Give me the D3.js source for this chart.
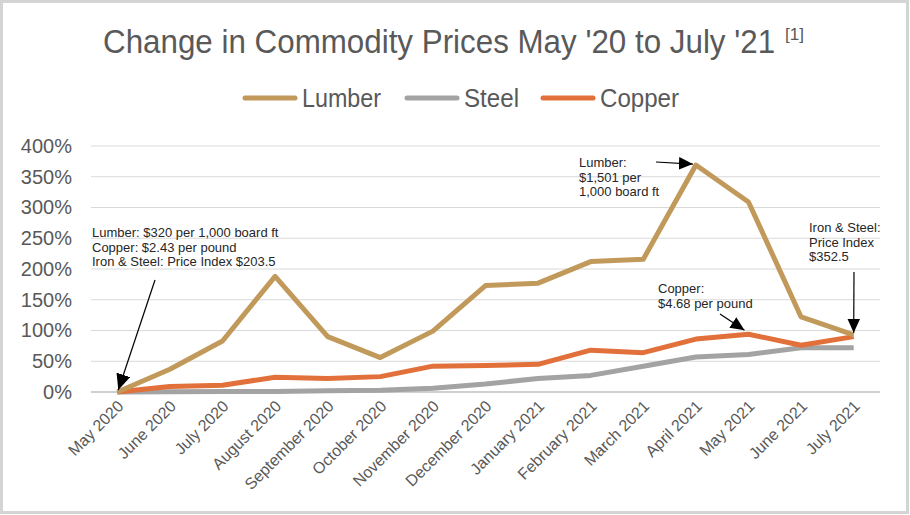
<!DOCTYPE html>
<html><head><meta charset="utf-8">
<script src="https://cdn.jsdelivr.net/npm/d3@7"></script>
<style>body{margin:0;background:#fff}svg{display:block}</style>
</head><body><svg id="c" width="910" height="515"></svg>
<script>
const months = ["May 2020","June 2020","July 2020","August 2020","September 2020","October 2020","November 2020","December 2020","January 2021","February 2021","March 2021","April 2021","May 2021","June 2021","July 2021"];
const lumber = [0,37,83,188,90,56,99,173,177,212,216,369,309,122,93];
const steel  = [0,0.5,1,1,2,3,6,13,22,27,42,57,61,72,72];
const copper = [0,9,11,24,22,25,42,43,45,68,64,86,94,76,90];
const yTicks = [0,50,100,150,200,250,300,350,400];
const seriesNames = ["Lumber","Steel","Copper"];
const colors = {Lumber:"#C19A5B", Steel:"#A3A3A3", Copper:"#E2703A"};

const svg = d3.select("#c");
const font = "Liberation Sans, Arial, sans-serif";
const narrow = "Liberation Sans Narrow, Liberation Sans, Arial, sans-serif";
// frame
svg.append("rect").attr("x",1.5).attr("y",1.5).attr("width",906).attr("height",511)
  .attr("fill","#fff").attr("stroke","#d4d4d4").attr("stroke-width",3);

const x = d3.scaleBand().domain(months).range([91,880]);
const y = d3.scaleLinear().domain([0,400]).range([392,146]);
const px = m => x(m) + x.bandwidth()/2;

// title (horizontally condensed)
const sx = 0.95;
const title = svg.append("text").attr("font-family",font).attr("font-size",33).attr("fill","#595959")
  .attr("transform",`translate(103,53) scale(${sx},1)`)
  .text("Change in Commodity Prices May '20 to July '21");
const tw = title.node().getComputedTextLength()*sx;
svg.append("text").attr("x",103+tw+10).attr("y",40)
  .attr("font-family",font).attr("font-size",17).attr("fill","#595959").text("[1]");

// legend
const legX = [245,407,543];
const legW = [79,55,79];
seriesNames.forEach((s,i)=>{
  const g = svg.append("g");
  g.append("line").attr("x1",legX[i]).attr("x2",legX[i]+50).attr("y1",98).attr("y2",98)
    .attr("stroke",colors[s]).attr("stroke-width",5).attr("stroke-linecap","round");
  g.append("text").attr("x",legX[i]+57).attr("y",107).attr("font-family",narrow)
    .attr("font-size",26).attr("fill","#595959")
    .attr("textLength",legW[i]).attr("lengthAdjust","spacingAndGlyphs").text(s);
});

// grid
svg.append("g").selectAll("line").data(yTicks).join("line")
  .attr("x1",91).attr("x2",880).attr("y1",d=>y(d)).attr("y2",d=>y(d))
  .attr("stroke",d=>d===0?"#bfbfbf":"#d9d9d9").attr("stroke-width",d=>d===0?1.5:1);

// y axis
const ya = svg.append("g").attr("transform","translate(78,0)")
  .call(d3.axisLeft(y).tickValues(yTicks).tickFormat(d=>d+"%").tickSize(0).tickPadding(6));
ya.select(".domain").remove();
ya.selectAll("text").attr("font-family",font).attr("font-size",20).attr("fill","#595959");

// x axis
const xa = svg.append("g").attr("transform","translate(0,392)")
  .call(d3.axisBottom(x).tickSize(0));
xa.select(".domain").remove();
xa.selectAll("text").attr("font-family",font).attr("font-size",16).attr("fill","#595959")
  .attr("text-anchor","end").attr("dy",0)
  .attr("transform","translate(5,13) rotate(-45)");

// lines
const data = {Lumber:lumber, Steel:steel, Copper:copper};
const line = d3.line().x((d,i)=>px(months[i])).y(d=>y(d));
["Steel","Copper","Lumber"].forEach(s=>{
  svg.append("path").datum(data[s]).attr("d",line).attr("fill","none")
    .attr("stroke",colors[s]).attr("stroke-width",5).attr("stroke-linejoin","round");
});

// annotations
const defs = svg.append("defs");
function note(xp, yp, lines){
  const tx = svg.append("text").attr("font-family",font).attr("font-size",13).attr("fill","#262626");
  lines.forEach((l,i)=>tx.append("tspan").attr("x",xp).attr("y",yp+i*14.5).text(l));
}
function arrow(x1,y1,x2,y2,sz){
  const id="ah"+Math.round(x1)+Math.round(y1);
  defs.append("marker").attr("id",id).attr("viewBox","0 0 10 10").attr("refX",10).attr("refY",5)
    .attr("markerWidth",sz).attr("markerHeight",sz*0.9).attr("markerUnits","userSpaceOnUse")
    .attr("orient","auto").attr("preserveAspectRatio","none")
    .append("path").attr("d","M0,0L10,5L0,10z").attr("fill","#000");
  svg.append("line").attr("x1",x1).attr("y1",y1).attr("x2",x2).attr("y2",y2)
    .attr("stroke","#000").attr("stroke-width",1.2).attr("marker-end",`url(#${id})`);
}
note(92,237,["Lumber: $320 per 1,000 board ft","Copper: $2.43 per pound","Iron & Steel: Price Index $203.5"]);
arrow(155,280, px(months[0])+1, y(lumber[0])-2, 16);
note(579,167,["Lumber:","$1,501 per","1,000 board ft"]);
arrow(656,162, px(months[11])-3, y(lumber[11])-1, 14);
note(658,293,["Copper:","$4.68 per pound"]);
arrow(720,314, px(months[12])-4, y(copper[12])-4, 14);
note(809,232,["Iron & Steel:","Price Index","$352.5"]);
arrow(854,272, px(months[14]), y(lumber[14])-2, 14);
</script></body></html>
